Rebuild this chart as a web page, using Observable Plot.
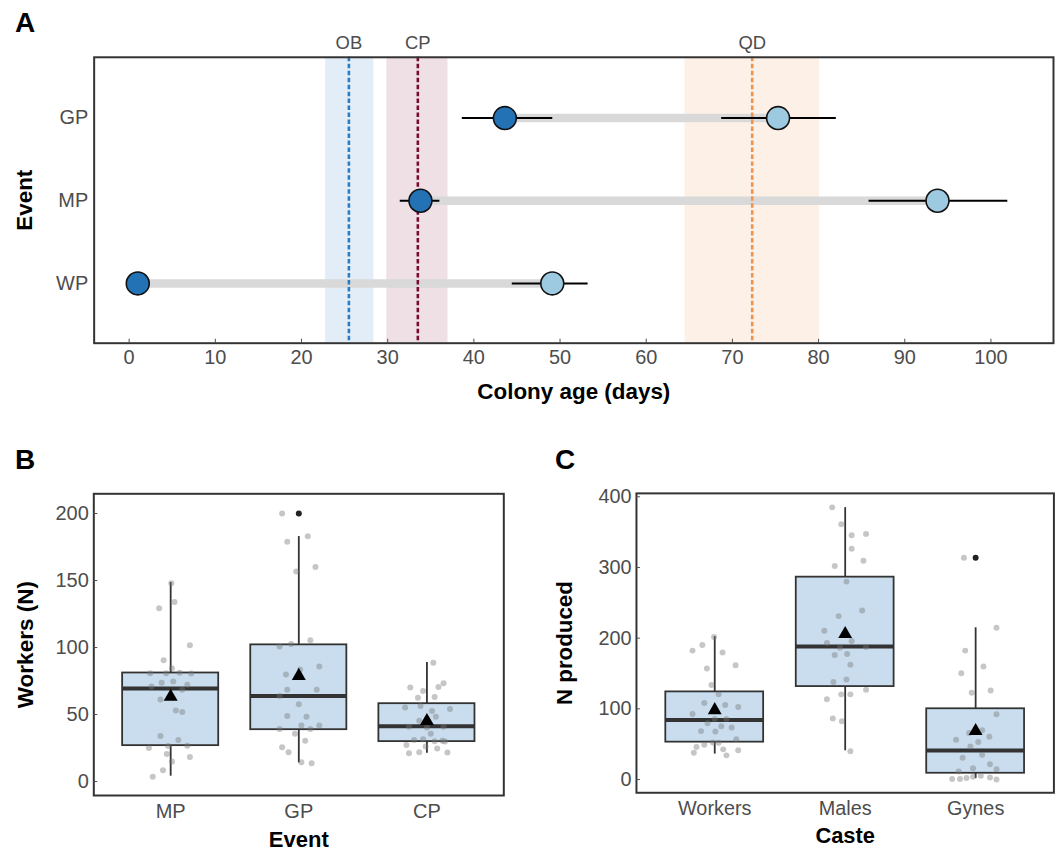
<!DOCTYPE html>
<html><head><meta charset="utf-8">
<script src="https://cdn.jsdelivr.net/npm/d3@7"></script>
<script src="https://cdn.jsdelivr.net/npm/@observablehq/plot@0.6"></script>
<style>
html, body { margin:0; padding:0; background:#fff; overflow:hidden; }
#wrap { position:relative; width:1056px; height:854px; overflow:hidden; font-family:"Liberation Sans", Arial, sans-serif; }
.panel { position:absolute; }
.letter { position:absolute; font-weight:bold; font-size:28px; line-height:1; color:#000; }
</style></head>
<body>
<div id="wrap">
  <div id="pA" class="panel" style="left:0;top:0"></div>
  <div id="pB" class="panel" style="left:0;top:440px"></div>
  <div id="pC" class="panel" style="left:540px;top:440px"></div>
  <div class="letter" style="left:15px;top:9px">A</div>
  <div class="letter" style="left:15px;top:446px">B</div>
  <div class="letter" style="left:555px;top:446px">C</div>
</div>
<script>
// ---------- Panel A data ----------
const eventsA = ["GP", "MP", "WP"];
const startMean = [43.6, 33.8, 1.0];
const startLo   = [38.6, 31.4, 1.0];
const startHi   = [49.1, 36.0, 1.0];
const endMean   = [75.3, 93.8, 49.1];
const endLo     = [68.7, 85.8, 44.4];
const endHi     = [82.0, 101.9, 53.2];
const xTicksA   = [0, 10, 20, 30, 40, 50, 60, 70, 80, 90, 100];

const markerNames = ["OB", "CP", "QD"];
const markerMid   = [25.5, 33.5, 72.3];
const markerLo    = [22.8, 29.9, 64.5];
const markerHi    = [28.4, 37.0, 80.1];

// ---------- Panel B data ----------
const groupsB = ["MP", "GP", "CP"];
const bQ1   = [26.8, 38.7, 29.8];
const bMed  = [69.5, 63.8, 41.2];
const bQ3   = [81.0, 102.0, 58.1];
const bLow  = [4.0, 13.9, 21.1];
const bHigh = [148.5, 182.8, 88.9];
const bMean = [63.3, 78.8, 45.2];
const bOutGroup = ["GP"];
const bOutValue = [200];
const yTicksB = [0, 50, 100, 150, 200];

const bMPvals = [147.9,134.0,129.3,101.7,90.6,84.6,80.9,80.9,81.1,80.6,71.0,73.7,74.7,72.2,68.5,61.3,53.1,51.9,34.0,31.0,25.1,26.6,26.8,20.6,18.4,14.9,8.4,3.5];
const bMPjit  = [0.005,0.03,-0.09,0.15,-0.055,0.01,-0.16,-0.035,0.07,0.16,-0.15,-0.07,0.02,0.13,0.09,-0.08,0.04,0.09,-0.08,0.06,-0.17,-0.02,0.13,-0.03,0.15,0.01,-0.06,-0.14];
const bGPvals = [200,178.9,183.1,160.0,156.8,100.7,102.7,105.5,79.9,83.6,85.9,68.5,68.5,63.8,57.6,48.9,48.4,39.2,41.9,39.2,41.9,35.7,30.5,25.6,21.8,14.4,13.6];
const bGPjit  = [-0.13,-0.09,0.07,0.13,-0.02,-0.15,-0.06,0.09,-0.10,0.01,0.16,-0.09,0.14,-0.15,0.0,-0.09,0.06,-0.15,0.02,0.09,0.16,-0.03,0.05,-0.13,-0.08,0.02,0.10];
const bCPvals = [88.6,70.2,67.5,70.5,73.4,62.5,63.0,55.3,56.3,54.1,52.6,48.4,45.4,40.9,40.4,40.9,35.7,31.0,31.5,30.0,30.5,29.8,27.3,26.1,24.6,21.1,21.8,21.6];
const bCPjit  = [0.05,-0.13,-0.03,0.09,0.13,-0.07,0.06,-0.17,-0.05,0.18,0.04,0.07,-0.06,-0.14,0.0,0.13,0.03,-0.10,-0.03,0.06,0.12,0.14,-0.16,-0.01,0.08,-0.14,-0.06,0.16];

// ---------- Panel C data ----------
const groupsC = ["Workers", "Males", "Gynes"];
const cQ1   = [52.9, 131.5, 8.9];
const cMed  = [84.2, 188.1, 41.2];
const cQ3   = [124.0, 286.3, 100.1];
const cLow  = [36.0, 40.7, 1.4];
const cHigh = [202.1, 384.6, 214.7];
const cMean = [98.2, 205.8, 68.8];
const cOutGroup = ["Gynes"];
const cOutValue = [313.7];
const yTicksC = [0, 100, 200, 300, 400];

const cWvals = [201.6,190.4,182.4,179.6,157.1,161.8,133.6,120.5,108.3,105.5,102.7,92.8,85.8,85.8,79.7,75.5,73.6,68.5,68.0,57.2,49.2,46.0,52.5,52.1,42.7,41.3,38.0,34.2];
const cWjit  = [-0.005,-0.095,-0.17,0.06,-0.06,0.16,-0.025,0.03,-0.08,0.08,0.18,-0.17,0.0,0.09,-0.055,0.05,0.13,-0.105,0.005,0.165,-0.08,-0.14,-0.015,0.03,0.065,0.18,-0.16,0.09];
const cMvals = [385.0,361.1,345.6,347.5,326.4,309.5,302.0,280.0,239.2,231.2,210.6,196.0,193.2,186.6,187.6,176.3,177.7,162.3,137.9,141.6,127.1,120.5,120.5,113.5,86.3,82.5,39.9];
const cMjit  = [-0.10,-0.03,0.05,0.16,0.05,0.14,-0.08,0.01,0.13,-0.05,-0.16,0.05,-0.14,-0.04,0.16,-0.08,0.015,0.04,-0.09,0.01,0.16,-0.03,0.04,-0.14,-0.095,-0.025,0.04];
const cGvals = [313.7,214.8,182.4,159.9,150.5,122.9,126.1,92.4,65.7,69.9,60.5,56.3,53.0,46.9,35.2,30.9,21.6,15.9,14.5,11.3,0.9,0.9,2.3,3.8,5.2,2.8,0];
const cGjit  = [-0.09,0.16,-0.08,0.06,-0.11,-0.03,0.115,0.16,-0.05,0.05,0.105,-0.15,0.02,-0.04,0.05,-0.10,0.11,-0.02,0.16,-0.13,-0.18,-0.12,-0.07,-0.02,0.04,0.11,0.16];

// ---------- styles ----------
const FONT = "'Liberation Sans', Arial, Helvetica, sans-serif";
const TICK_COLOR = "#4d4d4d";
const FRAME = "#333333";
const markerFill = ["#e3edf7", "#efe0e5", "#fdf0e6"];
const markerLine = ["#2c7cc4", "#7a0b30", "#f0934c"];
const BOX_W = 0.75;
const BOX_FILL = "#c9ddee";

// ---------- Panel A ----------
const rowsA = eventsA.map((e, i) => ({event: e, s: startMean[i], sLo: startLo[i], sHi: startHi[i], e2: endMean[i], eLo: endLo[i], eHi: endHi[i]}));
const markers = markerNames.map((n, i) => ({name: n, mid: markerMid[i], lo: markerLo[i], hi: markerHi[i], fill: markerFill[i], line: markerLine[i]}));

const plotA = Plot.plot({
  width: 1060, height: 420,
  marginLeft: 94, marginRight: 3, marginTop: 57, marginBottom: 76,
  style: {fontFamily: FONT, fontSize: "20px", color: TICK_COLOR, background: "transparent"},
  x: {domain: [-4.06, 107.26]},
  y: {type: "point", domain: eventsA, padding: 0.71},
  marks: [
    ...markers.map(m => Plot.rect([m], {x1: "lo", x2: "hi", fill: m.fill})),
    Plot.link(rowsA, {x1: "s", x2: "e2", y1: "event", y2: "event", stroke: "#d9d9d9", strokeWidth: 8.5}),
    ...markers.map(m => Plot.ruleX([m], {x: "mid", stroke: m.line, strokeWidth: 2.6, strokeDasharray: "4.5,2.5"})),
    Plot.text(markers, {x: "mid", text: "name", frameAnchor: "top", lineAnchor: "middle", dy: -14, fontSize: 18.5, fill: TICK_COLOR}),
    Plot.link(rowsA, {x1: "sLo", x2: "sHi", y1: "event", y2: "event", stroke: "#000", strokeWidth: 2}),
    Plot.link(rowsA, {x1: "eLo", x2: "eHi", y1: "event", y2: "event", stroke: "#000", strokeWidth: 2}),
    Plot.dot(rowsA, {x: "s", y: "event", r: 11.5, fill: "#2372b6", stroke: "#111", strokeWidth: 1.6}),
    Plot.dot(rowsA, {x: "e2", y: "event", r: 11.5, fill: "#9ecae1", stroke: "#111", strokeWidth: 1.6}),
    Plot.frame({stroke: FRAME, strokeWidth: 2}),
    Plot.axisX({ticks: xTicksA, tickSize: -4, tickPadding: 11, fontSize: 20, label: null, color: TICK_COLOR}),
    Plot.axisY({tickSize: 0, tickPadding: 6, fontSize: 20, label: null, color: TICK_COLOR}),
    Plot.text(["Colony age (days)"], {frameAnchor: "bottom", lineAnchor: "middle", textAnchor: "middle", dy: 49, fontSize: 22.5, fontWeight: "bold", fill: "#000"}),
    Plot.text(["Event"], {frameAnchor: "left", lineAnchor: "middle", textAnchor: "middle", dx: -70, rotate: -90, fontSize: 22.5, fontWeight: "bold", fill: "#000"})
  ]
});
document.getElementById("pA").appendChild(plotA);

// ---------- box panel builder ----------
function boxPanel({groups, q1, med, q3, lo, hi, mean, outGroup, outValue, vals, jits, yTicks, yDomain, width, marginLeft, marginRight, xTitle, yTitle, yTitleDx}) {
  const boxes = groups.map((g, i) => ({i: i + 1, q1: q1[i], med: med[i], q3: q3[i], lo: lo[i], hi: hi[i], mean: mean[i]}));
  const pts = [];
  groups.forEach((g, gi) => vals[gi].forEach((v, k) => pts.push({i: gi + 1, j: jits[gi][k], v})));
  const outs = outGroup.map((g, k) => ({i: groups.indexOf(g) + 1, v: outValue[k]}));
  return Plot.plot({
    width, height: 414,
    marginLeft, marginRight, marginTop: 53.3, marginBottom: 59,
    style: {fontFamily: FONT, fontSize: "20px", color: TICK_COLOR, background: "transparent"},
    x: {domain: [0.4, 3.6]},
    y: {domain: yDomain},
    marks: [
      Plot.ruleX(boxes, {x: "i", y1: "q3", y2: "hi", stroke: FRAME, strokeWidth: 1.8}),
      Plot.ruleX(boxes, {x: "i", y1: "lo", y2: "q1", stroke: FRAME, strokeWidth: 1.8}),
      Plot.rect(boxes, {x1: d => d.i - BOX_W / 2, x2: d => d.i + BOX_W / 2, y1: "q1", y2: "q3", fill: BOX_FILL, stroke: FRAME, strokeWidth: 1.8}),
      Plot.ruleY(boxes, {y: "med", x1: d => d.i - BOX_W / 2, x2: d => d.i + BOX_W / 2, stroke: FRAME, strokeWidth: 4}),
      Plot.dot(pts, {x: d => d.i + d.j, y: "v", r: 3, fill: "#777", fillOpacity: 0.42, stroke: null}),
      Plot.dot(outs, {x: "i", y: "v", r: 3, fill: "#222", stroke: null}),
      Plot.dot(boxes, {x: "i", y: "mean", symbol: "triangle", r: 5.2, fill: "#000", stroke: null}),
      Plot.frame({stroke: FRAME, strokeWidth: 2}),
      Plot.axisY({ticks: yTicks, tickSize: -4, tickPadding: 9, fontSize: 20, label: null, color: TICK_COLOR}),
      Plot.axisX({ticks: [1, 2, 3], tickFormat: d => groups[d - 1], tickSize: 0, tickPadding: 8, fontSize: 20, label: null, color: TICK_COLOR}),
      Plot.text([xTitle], {frameAnchor: "bottom", lineAnchor: "middle", textAnchor: "middle", dy: 44, fontSize: 22, fontWeight: "bold", fill: "#000"}),
      Plot.text([yTitle], {frameAnchor: "left", lineAnchor: "middle", textAnchor: "middle", dx: yTitleDx, rotate: -90, fontSize: 22.5, fontWeight: "bold", fill: "#000"})
    ]
  });
}

const plotB = boxPanel({
  groups: groupsB, q1: bQ1, med: bMed, q3: bQ3, lo: bLow, hi: bHigh, mean: bMean,
  outGroup: bOutGroup, outValue: bOutValue,
  vals: [bMPvals, bGPvals, bCPvals], jits: [bMPjit, bGPjit, bCPjit],
  yTicks: yTicksB, yDomain: [-10.4, 214.7],
  width: 530, marginLeft: 93.3, marginRight: 26.7,
  xTitle: "Event", yTitle: "Workers (N)", yTitleDx: -68
});
document.getElementById("pB").appendChild(plotB);

const plotC = boxPanel({
  groups: groupsC, q1: cQ1, med: cMed, q3: cQ3, lo: cLow, hi: cHigh, mean: cMean,
  outGroup: cOutGroup, outValue: cOutValue,
  vals: [cWvals, cMvals, cGvals], jits: [cWjit, cMjit, cGjit],
  yTicks: yTicksC, yDomain: [-18.7, 404.8],
  width: 520, marginLeft: 96.7, marginRight: 2.6,
  xTitle: "Caste", yTitle: "N produced", yTitleDx: -72
});
document.getElementById("pC").appendChild(plotC);
</script>
</body></html>
